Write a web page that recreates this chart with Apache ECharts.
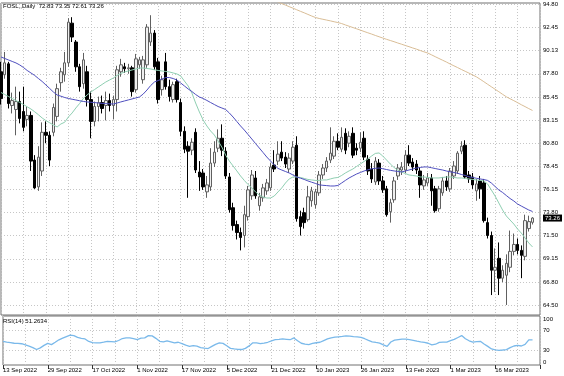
<!DOCTYPE html>
<html>
<head>
<meta charset="utf-8">
<script src="https://cdn.jsdelivr.net/npm/echarts@6/dist/echarts.min.js"></script>
<style>
html, body { margin: 0; padding: 0; background: #fff; }
#chart { width: 564px; height: 376px; }
</style>
</head>
<body>
<div id="chart"></div>
<script>
// 品种名
const symbolName = 'FOSL,,Daily'
// 日期刻度（每12根K线一个）
const tickLabels = ['13 Sep 2022', '29 Sep 2022', '17 Oct 2022', '1 Nov 2022', '17 Nov 2022', '5 Dec 2022',
	'21 Dec 2022', '10 Jan 2023', '26 Jan 2023', '13 Feb 2023', '1 Mar 2023', '16 Mar 2023']
// 价格刻度
const priceTicks = [94.80, 92.45, 90.13, 87.80, 85.45, 83.15, 80.80, 78.45, 76.15, 73.80, 71.50, 69.15, 66.80, 64.50]
// RSI 刻度
const rsiLevels = [70, 30]
const rsiBounds = [0, 100]

// K线 [open, high, low, close]
const ohlc = [
	[88.0,89.0,84.7,85.3],[87.7,90.0,87.3,88.9],[88.8,89.0,84.3,84.8],[84.6,85.9,83.8,85.1],[84.2,86.5,81.6,85.0],
	[85.0,86.0,82.8,83.3],[84.0,86.5,82.0,82.4],[83.2,84.5,82.5,83.6],[83.6,84.0,78.0,79.0],[79.1,79.6,76.2,76.3],
	[76.4,80.5,76.0,79.4],[78.0,82.9,77.5,81.9],[81.9,83.0,80.8,81.6],[81.6,82.0,78.5,79.1],[81.9,84.8,81.5,84.4],
	[83.5,86.8,83.0,86.3],[86.9,88.4,86.0,88.0],[87.7,90.0,87.0,88.9],[88.9,93.4,88.5,93.0],[92.9,93.5,91.0,91.5],
	[91.0,91.2,88.0,88.5],[88.5,88.8,86.0,86.5],[86.8,89.9,86.3,89.2],[88.0,88.6,84.5,85.2],[85.2,86.0,81.3,83.0],
	[83.0,85.0,82.5,84.5],[84.5,85.5,83.0,84.9],[84.9,85.6,83.8,84.3],[84.6,86.0,83.1,85.1],[85.1,85.8,84.0,84.6],
	[84.6,85.6,83.2,85.2],[85.2,88.6,84.0,88.2],[88.0,89.3,87.5,88.7],[88.5,88.9,87.9,88.3],[88.3,88.8,87.8,88.4],
	[88.4,88.6,85.5,86.0],[86.2,89.8,85.9,89.3],[88.7,89.5,88.3,89.2],[87.2,89.6,86.8,89.2],[88.7,92.8,88.4,92.5],
	[91.0,93.7,90.6,91.9],[91.9,92.2,88.2,88.5],[89.0,89.4,84.8,85.2],[86.2,87.6,85.6,87.2],[89.0,89.9,86.2,86.5],
	[86.5,87.2,85.0,85.5],[85.2,87.0,84.9,86.7],[87.0,87.3,84.9,85.2],[84.9,85.3,81.5,82.0],[82.0,82.5,79.8,80.2],
	[80.5,81.0,75.3,80.0],[80.1,81.3,79.6,80.9],[81.9,82.3,77.8,78.1],[77.9,79.0,76.0,77.4],[77.8,78.2,76.1,76.4],
	[75.9,77.5,75.3,76.6],[76.4,80.3,76.0,78.8],[78.8,81.0,78.4,79.9],[80.3,82.2,79.9,81.3],[81.3,82.7,79.5,80.1],
	[80.0,80.4,77.2,77.5],[77.4,77.8,73.8,74.1],[74.3,74.8,72.0,72.5],[72.6,73.0,71.1,71.8],[71.8,72.3,70.0,71.3],
	[71.5,74.5,70.3,73.6],[73.4,76.5,73.0,76.1],[75.5,78.1,75.1,77.6],[77.3,78.0,75.2,75.5],[74.5,75.8,74.0,75.4],
	[75.3,76.7,74.9,76.3],[76.0,77.2,75.6,76.8],[76.3,78.8,76.0,78.4],[78.6,80.1,77.9,78.2],[79.0,81.0,78.6,79.7],
	[79.9,81.0,79.0,79.3],[79.4,79.9,78.3,78.7],[78.2,79.8,77.8,79.3],[79.0,81.0,78.7,80.4],[80.6,81.5,72.9,73.2],
	[73.4,74.0,71.5,72.4],[73.8,74.3,72.2,72.8],[73.1,76.5,72.9,75.4],[75.0,76.4,74.4,76.0],[74.6,76.2,74.2,75.9],
	[75.8,78.0,75.5,77.6],[77.6,78.7,77.2,78.3],[78.3,79.4,77.9,79.0],[79.1,82.4,78.8,79.8],[79.5,81.5,79.2,81.0],
	[81.0,81.8,80.1,80.4],[80.2,82.4,79.9,81.4],[81.8,82.3,79.7,80.1],[80.8,82.0,80.4,81.5],[81.8,82.4,79.3,79.6],
	[80.3,80.8,79.6,80.1],[80.3,81.9,79.9,80.9],[81.3,82.0,79.1,79.4],[79.2,79.6,77.6,78.0],[78.2,78.8,76.8,77.2],
	[76.9,79.4,76.6,79.0],[78.8,79.2,76.6,77.0],[77.0,77.5,75.8,76.1],[76.2,76.5,73.4,73.6],[73.9,75.2,72.8,74.8],
	[75.1,77.4,74.8,77.0],[77.5,78.7,77.1,78.3],[78.1,78.9,77.6,78.4],[78.1,80.1,77.8,79.6],[79.6,80.6,78.5,78.8],
	[78.9,79.3,78.0,78.4],[78.7,79.1,77.7,78.1],[78.0,78.4,75.3,76.6],[76.5,77.6,76.1,77.1],[76.8,77.8,76.5,77.3],
	[77.3,77.7,74.5,76.0],[76.2,76.5,73.8,74.0],[74.2,76.5,73.9,76.2],[75.8,77.4,75.5,77.0],[77.0,77.5,76.0,76.4],
	[76.2,78.3,75.9,78.0],[77.5,79.0,77.2,78.5],[78.0,80.0,77.7,79.8],[80.0,81.0,79.7,80.5],[80.6,81.1,77.2,77.4],
	[77.6,78.0,76.8,77.2],[77.4,77.8,76.2,76.6],[76.0,77.2,75.0,76.7],[77.0,77.5,75.2,76.2],[76.8,77.2,72.8,73.0],
	[72.8,73.3,71.2,71.5],[71.5,71.9,65.5,68.0],[68.0,70.2,65.8,68.3],[69.2,70.8,65.5,67.2],[67.2,68.5,66.8,68.0],
	[67.5,69.6,64.5,68.7],[68.3,72.0,67.8,69.9],[69.9,71.7,69.5,70.6],[70.6,71.2,69.6,70.0],[70.0,70.5,67.2,69.5],
	[69.4,73.6,69.0,73.0],[72.2,73.5,71.9,72.9],[72.83,73.35,72.61,73.26]
]

// 快均线（绿）
const maFast = [
	85.91,85.71,85.51,85.30,85.10,84.91,84.70,84.47,84.25,83.97,
	83.67,83.34,83.08,82.86,82.64,82.44,82.74,82.91,83.44,83.85,
	84.35,84.80,85.31,85.66,85.96,86.21,86.47,86.72,86.97,87.17,
	87.37,87.63,87.83,87.98,88.08,88.18,88.28,88.38,88.38,88.33,
	88.28,88.20,88.13,88.08,88.03,87.98,87.88,87.78,87.58,87.07,
	86.57,85.86,84.85,83.95,83.14,82.54,82.03,81.63,81.02,80.42,
	79.61,79.01,78.51,78.01,77.50,77.05,76.64,76.29,75.89,75.58,
	75.38,75.28,75.28,75.48,75.89,76.29,76.79,77.20,77.40,77.40,
	77.35,77.25,77.15,77.10,77.05,77.05,77.10,77.10,77.20,77.30,
	77.35,77.55,77.80,78.01,78.20,78.46,78.71,78.96,79.21,79.51,
	79.77,79.82,79.51,79.11,78.71,78.36,78.10,77.90,77.75,77.60,
	77.55,77.50,77.40,77.40,77.35,77.30,77.30,77.30,77.35,77.40,
	77.40,77.35,77.30,77.30,77.25,77.20,77.15,77.10,77.05,77.00,
	76.69,76.09,75.48,74.78,74.07,73.47,73.06,72.66,72.16,71.75,
	71.25,70.75,70.35
]
// 慢均线（蓝）
const maSlow = [
	89.49,89.34,89.19,89.04,88.89,88.69,88.43,88.13,87.88,87.63,
	87.32,87.02,86.67,86.32,85.96,85.66,85.54,85.41,85.31,85.23,
	85.16,85.08,85.01,84.96,84.93,84.90,84.85,84.82,84.79,84.77,
	84.75,84.85,84.96,85.06,85.16,85.26,85.36,85.46,85.76,86.16,
	86.62,86.97,87.12,87.27,87.42,87.42,87.32,87.17,86.87,86.57,
	86.27,86.01,85.71,85.46,85.31,85.11,84.90,84.70,84.50,84.35,
	84.20,83.85,83.44,82.99,82.54,82.13,81.68,81.23,80.77,80.32,
	79.87,79.41,79.01,78.61,78.26,78.10,77.95,77.80,77.60,77.40,
	77.28,77.15,77.00,76.87,76.75,76.61,76.56,76.53,76.49,76.49,
	76.54,76.79,77.05,77.30,77.50,77.70,77.85,78.00,78.12,78.22,
	78.27,78.30,78.23,78.15,78.07,78.01,77.95,77.90,78.00,78.10,
	78.20,78.30,78.36,78.41,78.41,78.33,78.25,78.17,78.10,78.00,
	77.92,77.85,77.77,77.65,77.55,77.42,77.35,77.27,77.20,77.14,
	77.05,76.79,76.44,76.09,75.84,75.53,75.23,74.98,74.68,74.47,
	74.27,74.07,73.92
]
// 长均线（棕），第72根起
const maLongStart = 72
const maLong = [
	95.33,95.18,95.03,94.87,94.72,94.56,94.41,94.25,94.09,93.94,
	93.78,93.62,93.47,93.37,93.29,93.21,93.13,93.04,92.96,92.86,
	92.72,92.59,92.46,92.33,92.20,92.06,91.93,91.80,91.66,91.53,
	91.40,91.27,91.15,91.03,90.90,90.78,90.65,90.53,90.40,90.28,
	90.14,90.01,89.89,89.71,89.52,89.34,89.16,88.98,88.78,88.60,
	88.42,88.23,88.05,87.87,87.68,87.49,87.25,87.00,86.74,86.49,
	86.24,85.99,85.73,85.48,85.28,85.09,84.89,84.68,84.49,84.29,
	84.10
]
// RSI(14)
const rsi14 = [
	48.2,46.8,45.6,44.4,44.0,43.4,41.0,38.4,35.6,31.6,
	35.0,40.0,44.0,41.6,46.4,51.4,54.8,58.0,61.0,60.0,
	56.4,54.4,53.2,48.0,45.6,45.0,45.2,46.6,48.2,47.8,
	47.0,50.0,54.0,55.4,55.4,54.0,52.0,54.8,55.4,60.0,
	59.4,54.4,48.4,47.4,49.4,47.4,45.0,46.4,43.6,40.4,
	38.2,39.6,38.4,35.6,34.4,33.6,38.0,42.2,45.0,44.2,
	39.2,34.0,32.8,32.0,31.6,34.0,39.0,45.2,45.0,43.6,
	44.8,46.4,49.4,51.8,52.4,53.2,52.4,51.6,55.2,49.4,
	44.4,42.6,41.6,44.0,45.4,46.4,49.8,53.2,55.4,56.8,
	57.6,58.4,59.6,59.0,58.0,57.2,56.2,53.6,50.4,47.4,
	46.0,44.8,41.0,38.0,47.0,50.6,51.8,53.0,52.8,51.6,
	50.4,48.6,47.2,46.2,44.4,41.0,42.4,46.2,46.6,46.6,
	49.6,52.4,56.2,60.0,53.6,49.4,46.6,47.8,48.4,43.0,
	38.0,32.8,31.0,30.0,30.6,31.4,35.6,38.8,40.0,38.8,
	42.0,51.4,51.2634
]

// 右侧留两格空位
const slotCount = ohlc.length + 2
const categories = Array.from({ length: slotCount }, (_, i) => String(i))

const font = 'Liberation Sans'
const gridLine = { color: '#c6c6c6', type: [1, 2], width: 1 }
const hiddenLine = { color: 'rgba(0,0,0,0)', width: 1 }
const last = ohlc[ohlc.length - 1]
const smallText = { fontSize: 6, color: '#000', fontFamily: font }
const titleText = { ...smallText, fontWeight: 'normal' }

const chart = echarts.init(document.getElementById('chart'))
const option = {
	animation: false,
	backgroundColor: '#fff',
	textStyle: { fontFamily: font },
	title: [
		{
			text: symbolName + '  ' + last.map(v => v.toFixed(2)).join(' '),
			left: 3, top: 3, padding: 0, textStyle: titleText,
		},
		{
			text: 'RSI(14) ' + rsi14[rsi14.length - 1].toFixed(4),
			left: 3, top: 318, padding: 0, textStyle: titleText,
		},
	],
	grid: [
		{ left: 1, right: 24, top: 3, height: 312, show: true, borderColor: '#707070', borderWidth: 1 },
		{ left: 1, right: 24, top: 316, height: 49, show: true, borderColor: '#707070', borderWidth: 1 },
	],
	xAxis: [
		{
			type: 'category', gridIndex: 0, data: categories, boundaryGap: false,
			axisLine: { show: false }, axisTick: { show: false }, axisLabel: { show: false },
			splitLine: { show: true, interval: (i) => i % 6 === 0, lineStyle: gridLine },
		},
		{
			type: 'category', gridIndex: 1, data: categories, boundaryGap: false,
			axisLine: { show: false },
			axisTick: { show: true, interval: (i) => i % 12 === 0, length: 4, lineStyle: { color: '#333' } },
			axisLabel: {
				show: true, interval: (i) => i % 12 === 0, align: 'left', margin: 2, ...smallText,
				formatter: (v, i) => tickLabels[i / 12] || '',
			},
			splitLine: { show: true, interval: (i) => i % 6 === 0, lineStyle: gridLine },
		},
	],
	yAxis: [
		{ type: 'value', gridIndex: 0, min: 63.49, max: 94.93, show: false },
		{
			// RSI 轴：只有 0 和 100 两个刻度，标签内缩（上端向下、下端向上对齐）
			type: 'value', gridIndex: 1, min: rsiBounds[0], max: rsiBounds[1], interval: 100,
			position: 'right', show: true,
			axisLine: { show: false }, axisTick: { show: false }, splitLine: { show: false },
			axisLabel: {
				show: true, inside: false, margin: 3, ...smallText,
				showMinLabel: true, showMaxLabel: true,
				verticalAlignMinLabel: 'bottom', verticalAlignMaxLabel: 'top',
				formatter: (v) => String(v),
			},
		},
	],
	series: [
		{
			type: 'candlestick', xAxisIndex: 0, yAxisIndex: 0,
			data: ohlc.map(d => [d[0], d[3], d[2], d[1]]),
			barWidth: 3,
			itemStyle: {
				color: '#efefef', color0: '#000000',
				borderColor: '#606060', borderColor0: '#000000', borderWidth: 1,
			},
			markLine: {
				silent: true, symbol: ['none', 'none'], z: 1, precision: 2,
				lineStyle: gridLine,
				label: { position: 'end', distance: 3, ...smallText, formatter: (p) => Number(p.value).toFixed(2) },
				data: priceTicks.map(v => ({ yAxis: v })).concat([{
					yAxis: last[3],
					lineStyle: hiddenLine,
					label: { backgroundColor: '#000', color: '#fff', padding: [1, 2, 0, 2] },
				}]),
			},
		},
		{
			type: 'line', xAxisIndex: 0, yAxisIndex: 0, data: maFast, symbol: 'none', z: 3,
			lineStyle: { color: '#8fcfb2', width: 1 },
		},
		{
			type: 'line', xAxisIndex: 0, yAxisIndex: 0, data: maSlow, symbol: 'none', z: 3,
			lineStyle: { color: '#4f4fbf', width: 1 },
		},
		{
			type: 'line', xAxisIndex: 0, yAxisIndex: 0, symbol: 'none', z: 3,
			data: new Array(maLongStart).fill(null).concat(maLong),
			lineStyle: { color: '#d9bd96', width: 1 },
		},
		{
			type: 'line', xAxisIndex: 1, yAxisIndex: 1, data: rsi14, symbol: 'none', z: 3,
			lineStyle: { color: '#7ab9ea', width: 1.3 },
			markLine: {
				silent: true, symbol: ['none', 'none'], z: 1,
				lineStyle: gridLine,
				label: { position: 'end', distance: 3, ...smallText, formatter: (p) => String(Math.round(p.value)) },
				data: rsiLevels.map(v => ({ yAxis: v })),
			},
		},
	],
}
chart.setOption(option)
</script>
</body>
</html>
